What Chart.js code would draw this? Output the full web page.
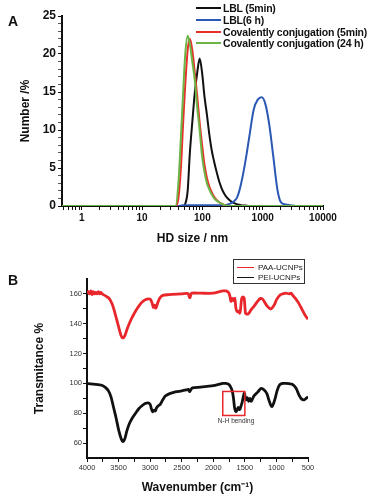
<!DOCTYPE html>
<html>
<head>
<meta charset="utf-8">
<script src="https://cdn.jsdelivr.net/npm/chart.js@4.4.0/dist/chart.umd.min.js"></script>
<style>
  body { margin: 0; background: #fff; font-family: Arial, "Liberation Sans", sans-serif; }
  #wrap { position: relative; width: 375px; height: 496px; overflow: hidden; background: #fff; }
  canvas { position: absolute; left: 0; }
  #chartA { top: 0; }
  #chartB { top: 250px; }
  .panel { position: absolute; left: 8px; font-weight: bold; font-size: 14px; color: #111; }
  .leg { position: absolute; display: flex; align-items: center; white-space: nowrap; }
  .leg span.line { display: inline-block; }
  #legA .leg { left: 196px; font-weight: bold; font-size: 10.5px; letter-spacing: -0.2px; color: #111; }
  #legA .line { width: 25px; height: 2px; margin-right: 2px; }
  #legB { position: absolute; left: 233px; top: 259px; width: 70px; height: 23px; border: 1px solid #333; }
  #legB .leg { left: 3px; font-size: 8px; color: #222; }
  #legB .line { width: 17px; height: 1.5px; margin-right: 4px; }
</style>
</head>
<body>
<div id="wrap">
  <canvas id="chartA" width="375" height="250"></canvas>
  <canvas id="chartB" width="375" height="246"></canvas>
  <div class="panel" style="top:13px">A</div>
  <div class="panel" style="top:272px">B</div>
  <div id="legA"></div>
  <div id="legB"></div>
</div>
<script>
// ---- panel A: DLS size distribution ----
const sizeBins = [0.47, 30, 36, 40, 44, 48, 52, 57, 62, 68, 75, 82, 90, 99, 108, 119, 130, 143, 157, 172,
  189, 207, 227, 250, 290, 330, 380, 440, 520, 610, 710, 830, 960, 1100, 1280, 1500, 1750, 2000, 2400, 2900, 3500, 10000];
const lbl5min = [0, 0, 0, 0, 0, 0, 0.3, 2, 7, 11, 15, 17.5, 19.4, 17.5, 14.5, 12, 9.5, 7.3, 5.8, 4.5,
  3.3, 2.4, 1.7, 1.2, 0.7, 0.4, 0.2, 0.1, 0.05, 0, 0, 0, 0, 0, 0, 0, 0, 0, 0, 0, 0, 0];
const lbl6h = [0, 0, 0, 0, 0.05, 0.1, 0.1, 0.1, 0.1, 0.1, 0.1, 0.1, 0.1, 0.1, 0.1, 0.1, 0.1, 0.1, 0.1, 0.1,
  0.1, 0.1, 0.1, 0.15, 0.3, 0.6, 1.2, 3, 6, 9.5, 12.7, 14, 14.3, 13.5, 10.8, 6.5, 2.2, 0.5, 0.2, 0.1, 0, 0];
const cov5min = [0, 0, 0, 1, 5, 11, 16, 20.5, 22.0, 20.5, 17.5, 14.5, 11, 8, 5.5, 3.7, 2.6, 1.8, 1.2, 0.8,
  0.5, 0.3, 0.15, 0.05, 0, 0, 0, 0, 0, 0, 0, 0, 0, 0, 0, 0, 0, 0, 0, 0, 0, 0];
const cov24h = [0, 0, 0, 3, 9, 15, 20, 22.4, 21.3, 19, 16.5, 13, 10, 6.5, 4.5, 3, 2.2, 1.5, 1.0, 0.7,
  0.5, 0.3, 0.15, 0.05, 0, 0, 0, 0, 0, 0, 0, 0, 0, 0, 0, 0, 0, 0, 0, 0, 0, 0];
const dlsNames = ['LBL (5min)', 'LBL(6 h)', 'Covalently conjugation (5min)', 'Covalently conjugation (24 h)'];
const dlsColors = ['#111111', '#2b58b4', '#e8302a', '#6cb446'];
const dlsSeries = [lbl5min, lbl6h, cov5min, cov24h];
const yTicksA = [0, 5, 10, 15, 20, 25];

// ---- panel B: FTIR spectra ----
const paaWave = [4000, 3980, 3960, 3940, 3920, 3900, 3880, 3860, 3840, 3820, 3800, 3780, 3760, 3740, 3700, 3650,
  3600, 3550, 3500, 3460, 3430, 3400, 3360, 3300, 3250, 3200, 3150, 3100, 3050, 3000, 2970, 2950, 2930, 2910,
  2880, 2850, 2800, 2700, 2500, 2400, 2380, 2370, 2355, 2340, 2200, 2000, 1900, 1850, 1800, 1760, 1740, 1720,
  1700, 1680, 1660, 1640, 1620, 1600, 1580, 1570, 1550, 1530, 1510, 1490, 1470, 1450, 1420, 1400, 1350, 1300,
  1250, 1220, 1180, 1150, 1100, 1070, 1030, 1000, 950, 900, 850, 800, 770, 740, 700, 650, 600, 550, 500];
const paaTrans = [160.5, 161.5, 160, 162, 159.5, 161.5, 160, 161, 160, 161.5, 160, 161, 160, 159.5, 158.5, 157,
  153, 146, 138, 132, 130.5, 132, 137, 143, 147, 150.5, 153.5, 155.5, 156.5, 156.5, 154, 151, 152.5, 150.5,
  154, 157, 159, 159.5, 160, 160.3, 158, 157.5, 159.5, 160.5, 160.5, 160.5, 161.5, 162, 162, 161, 159, 155,
  157, 155.5, 157, 150, 148, 148.5, 147, 149, 157, 158, 157, 147, 146.5, 146.5, 148, 149.5, 152, 155,
  157, 156.5, 154, 152, 150, 150.5, 153, 156, 159, 160, 160.5, 160, 160.5, 159, 157, 154, 150, 146, 143];
const peiWave = [4000, 3900, 3800, 3750, 3700, 3660, 3620, 3580, 3540, 3500, 3460, 3430, 3400, 3370, 3330, 3280,
  3230, 3180, 3130, 3080, 3030, 3000, 2980, 2960, 2940, 2920, 2900, 2870, 2840, 2800, 2760, 2700, 2600, 2500,
  2420, 2390, 2375, 2360, 2330, 2200, 2100, 2000, 1900, 1850, 1800, 1760, 1730, 1700, 1680, 1660, 1640, 1620,
  1605, 1590, 1575, 1560, 1545, 1530, 1510, 1495, 1480, 1460, 1440, 1420, 1400, 1380, 1350, 1300, 1250, 1220,
  1180, 1150, 1120, 1090, 1070, 1050, 1020, 990, 950, 900, 850, 800, 750, 710, 680, 640, 600, 560, 530, 500];
const peiTrans = [100, 99.5, 99, 98.5, 97, 95, 91, 84, 77, 69, 63, 61, 63, 68, 73, 77,
  80, 83, 85, 86.5, 87, 86, 83, 81, 82, 81.5, 83.5, 85, 86, 89, 91.5, 93, 94.3, 95,
  95.7, 96, 94.5, 95.5, 97, 97.5, 98, 98.5, 99.5, 100, 100, 99.5, 98, 95, 90, 83, 81, 82.5,
  84, 82.5, 83, 85, 87, 90, 93.5, 91, 89, 90.5, 88, 90, 88, 89.5, 92, 94, 96.5, 96.5,
  95, 93, 89, 85.5, 84.5, 86, 90, 95, 99, 100, 100, 99.8, 99.5, 98, 96, 92, 89.5, 89, 90, 91];
const ftirNames = ['PAA-UCNPs', 'PEI-UCNPs'];
const ftirColors = ['#e8262b', '#111111'];
const nhBox = { from: 1850, to: 1500, low: 78.5, high: 94.6, label: 'N-H bending', labelAt: 1640, labelY: 75 };

// legends
document.getElementById('legA').innerHTML = dlsNames.map((n, i) =>
  `<div class="leg" style="top:${2 + i * 11.8}px"><span class="line" style="background:${dlsColors[i]}"></span>${n}</div>`).join('');
document.getElementById('legB').innerHTML = ftirNames.map((n, i) =>
  `<div class="leg" style="top:${3 + i * 10}px"><span class="line" style="background:${ftirColors[i]}"></span>${n}</div>`).join('');

const axisFont = (size, weight) => ({ family: 'Arial, "Liberation Sans", sans-serif', size, weight });

// chart A
new Chart(document.getElementById('chartA'), {
  type: 'line',
  data: {
    datasets: dlsSeries.map((s, i) => ({
      label: dlsNames[i],
      data: sizeBins.map((x, j) => ({ x, y: s[j] })),
      borderColor: dlsColors[i],
      borderWidth: 2,
      pointRadius: 0,
      cubicInterpolationMode: 'monotone',
      order: 3 - i  // green on top
    }))
  },
  options: {
    responsive: false,
    animation: false,
    layout: { padding: { top: 16, right: 52, bottom: 0, left: 0 } },
    plugins: { legend: { display: false }, tooltip: { enabled: false } },
    scales: {
      x: {
        type: 'logarithmic', min: 0.47, max: 10000,
        afterBuildTicks: (s) => {
          const t = [];
          for (let e = -1; e <= 4; e++) for (let m = 1; m <= 9; m++) {
            const v = m * Math.pow(10, e);
            if (v >= 0.47 && v <= 10000.001) t.push({ value: v });
          }
          s.ticks = t;
        },
        afterFit: (s) => { s.height = 44; },
        ticks: {
          autoSkip: false, maxRotation: 0, padding: 2, color: '#111', font: axisFont(10, 'bold'),
          callback: (v) => {
            const l = Math.log10(v);
            return Math.abs(l - Math.round(l)) < 1e-6 ? String(Math.round(v)) : '';
          }
        },
        grid: { drawOnChartArea: false, tickLength: 4, tickColor: '#111', tickWidth: 1 },
        border: { color: '#111', width: 2 },
        title: { display: true, text: 'HD size / nm', color: '#111', font: axisFont(12, 'bold'), padding: { top: 0, bottom: 4 } }
      },
      y: {
        min: 0, max: 25,
        afterBuildTicks: (s) => {
          const t = [];
          for (let v = 0; v <= 25; v++) t.push({ value: v });
          s.ticks = t;
        },
        afterFit: (s) => { s.width = 62; },
        ticks: {
          autoSkip: false, padding: 2, color: '#111', font: axisFont(12, 'bold'),
          callback: (v) => (yTicksA.includes(v) ? String(v) : '')
        },
        grid: {
          drawOnChartArea: false, tickLength: 4, tickWidth: 1,
          tickColor: (c) => (c.tick && yTicksA.includes(c.tick.value) ? '#111' : '#555')
        },
        border: { color: '#111', width: 2 },
        title: { display: true, text: 'Number /%', color: '#111', font: axisFont(12, 'bold'), padding: { top: 18, bottom: 0 } }
      }
    }
  }
});

// chart B
const nhPlugin = {
  id: 'nhBox',
  afterDatasetsDraw(chart) {
    const { ctx, scales: { x, y } } = chart;
    const x1 = x.getPixelForValue(nhBox.from), x2 = x.getPixelForValue(nhBox.to);
    const y1 = y.getPixelForValue(nhBox.high), y2 = y.getPixelForValue(nhBox.low);
    ctx.save();
    ctx.strokeStyle = '#e8262b';
    ctx.lineWidth = 1.5;
    ctx.strokeRect(x1, y1, x2 - x1, y2 - y1);
    ctx.fillStyle = '#333';
    ctx.font = '6.5px Arial, "Liberation Sans", sans-serif';
    ctx.textAlign = 'center';
    ctx.textBaseline = 'middle';
    ctx.fillText(nhBox.label, x.getPixelForValue(nhBox.labelAt), y.getPixelForValue(nhBox.labelY));
    ctx.restore();
  }
};

new Chart(document.getElementById('chartB'), {
  type: 'line',
  data: {
    datasets: [
      { label: ftirNames[0], data: paaWave.map((x, i) => ({ x, y: paaTrans[i] })) },
      { label: ftirNames[1], data: peiWave.map((x, i) => ({ x, y: peiTrans[i] })) }
    ].map((d, i) => Object.assign(d, {
      borderColor: ftirColors[i], borderWidth: 2.8, pointRadius: 0, tension: 0.3
    }))
  },
  plugins: [nhPlugin],
  options: {
    responsive: false,
    animation: false,
    layout: { padding: { top: 29, right: 67, bottom: 0, left: 0 } },
    plugins: { legend: { display: false }, tooltip: { enabled: false } },
    scales: {
      x: {
        type: 'linear', reverse: true, min: 500, max: 4000,
        afterFit: (s) => { s.height = 38; },
        ticks: {
          stepSize: 250, autoSkip: false, maxRotation: 0, padding: 1, color: '#333', font: axisFont(7.5),
          callback: (v) => (v % 500 === 0 ? String(v) : '')
        },
        grid: { drawOnChartArea: false, tickLength: 4, tickColor: '#111', tickWidth: 1 },
        border: { color: '#111', width: 2 },
        title: { display: true, text: 'Wavenumber (cm\u207B\u00B9)', color: '#111', font: axisFont(12, 'bold'), padding: { top: 0, bottom: 1 } }
      },
      y: {
        min: 50, max: 170,
        afterFit: (s) => { s.width = 87; },
        ticks: {
          stepSize: 10, autoSkip: false, padding: 1, color: '#333', font: axisFont(7.5),
          callback: (v) => (v % 20 === 0 && v >= 60 && v <= 160 ? String(v) : '')
        },
        grid: {
          drawOnChartArea: false, tickLength: 4, tickWidth: 1,
          tickColor: (c) => (c.tick && (c.tick.value === 50 || c.tick.value === 170) ? 'rgba(0,0,0,0)' : '#111')
        },
        border: { color: '#111', width: 2 },
        title: { display: true, text: 'Transmitance %', color: '#111', font: axisFont(12, 'bold'), padding: { top: 32, bottom: 0 } }
      }
    }
  }
});
</script>
</body>
</html>
